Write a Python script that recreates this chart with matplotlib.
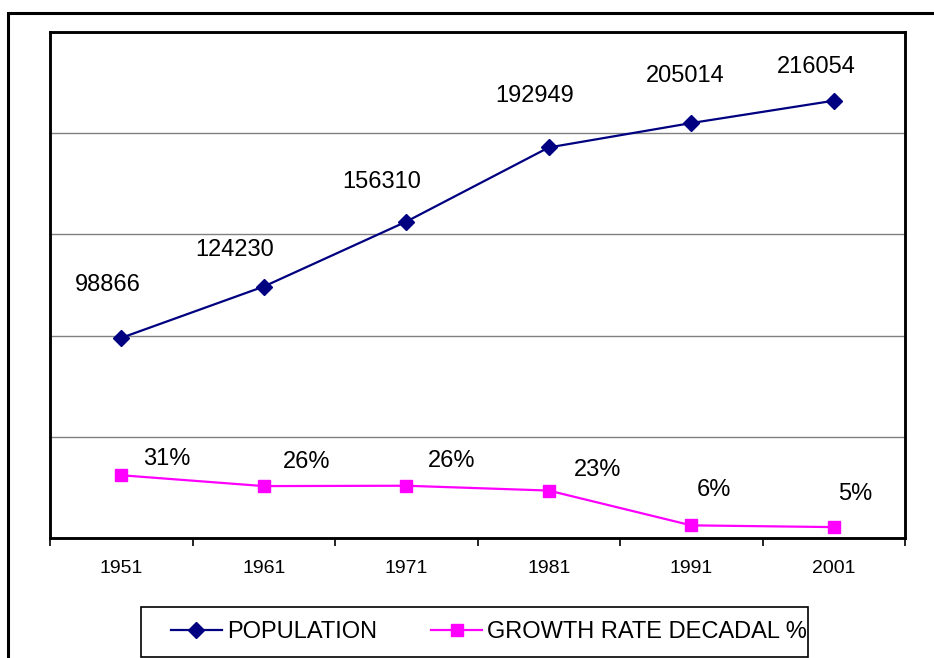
import numpy as np
import matplotlib.pyplot as plt
from matplotlib.patches import Rectangle

plt.rcParams['font.family'] = ['Liberation Sans', 'DejaVu Sans']

# Census years, population and decadal growth rate
years = ['1951', '1961', '1971', '1981', '1991', '2001']
population = [98866, 124230, 156310, 192949, 205014, 216054]
growth_rate = [31, 25.65, 25.82, 23.44, 6.25, 5.38]

# label offsets in pixels (dx, dy) from each marker
pop_offsets = [(-13, 53), (-29, 37), (-25, 40), (-14, 51), (-6, 47), (-17, 34)]
gr_offsets = [(46, 16), (43, 24), (45, 25), (49, 21), (23, 35), (21, 33)]

W, H = 934, 658
fig = plt.figure(figsize=(W / 100, H / 100), dpi=100)
ax = fig.add_axes([50 / W, 1 - 538 / H, 855 / W, 506 / H])
ax2 = ax.twinx()

x = np.arange(len(years)) + 0.5

ax.plot(x, population, color='#000080', lw=1.6, marker='D', ms=8.5, zorder=3)
ax2.plot(x, growth_rate, color='#FF00FF', lw=1.6, marker='s', ms=8, zorder=3)

for xi, v, (dx, dy) in zip(x, population, pop_offsets):
    ax.annotate(str(v), (xi, v), xytext=(dx, dy), textcoords='offset pixels',
                ha='center', va='center', fontsize=17)
for xi, v, (dx, dy) in zip(x, growth_rate, gr_offsets):
    ax2.annotate(f'{round(v)}%', (xi, v), xytext=(dx, dy), textcoords='offset pixels',
                 ha='center', va='center', fontsize=17)

ax.set_xlim(0, len(years))
ax.set_ylim(0, 250000)
ax2.set_ylim(0, 250)

# horizontal gridlines, no value labels
ax.set_yticks(np.arange(50000, 250001, 50000))
ax.yaxis.grid(True, color='#808080', lw=1)
ax.tick_params(axis='y', length=0, labelleft=False)
ax2.set_yticks([])

# category axis: ticks between categories, labels centred
ax.set_xticks(np.arange(len(years) + 1))
ax.set_xticklabels([])
ax.set_xticks(x, minor=True)
ax.set_xticklabels(years, minor=True, fontsize=14)
ax.tick_params(axis='x', which='major', direction='out', length=6, width=1.2)
ax.tick_params(axis='x', which='minor', length=0, pad=16)

for a in (ax, ax2):
    for s in a.spines.values():
        s.set_color('black')
        s.set_linewidth(1.8)

# legend entries without frame, box drawn separately
fig.legend(ax.lines + ax2.lines, ['POPULATION', 'GROWTH RATE DECADAL %'],
           loc='center', bbox_to_anchor=(489 / W, 1 - 632 / H), ncol=2,
           fontsize=17, frameon=False,
           handlelength=2.15, handletextpad=0.22, columnspacing=2.3,
           borderpad=0, borderaxespad=0)
fig.patches.append(Rectangle((141 / W, 1 - 657 / H), 667 / W, 50 / H,
                             transform=fig.transFigure, fill=False,
                             edgecolor='black', lw=1.2))

# outer chart border
fig.patches.append(Rectangle((8 / W, -0.1), 1.0, 1 - 13 / H + 0.1,
                             transform=fig.transFigure, fill=False,
                             edgecolor='black', lw=2.2, clip_on=False))

fig.savefig('out.png', dpi=100)
